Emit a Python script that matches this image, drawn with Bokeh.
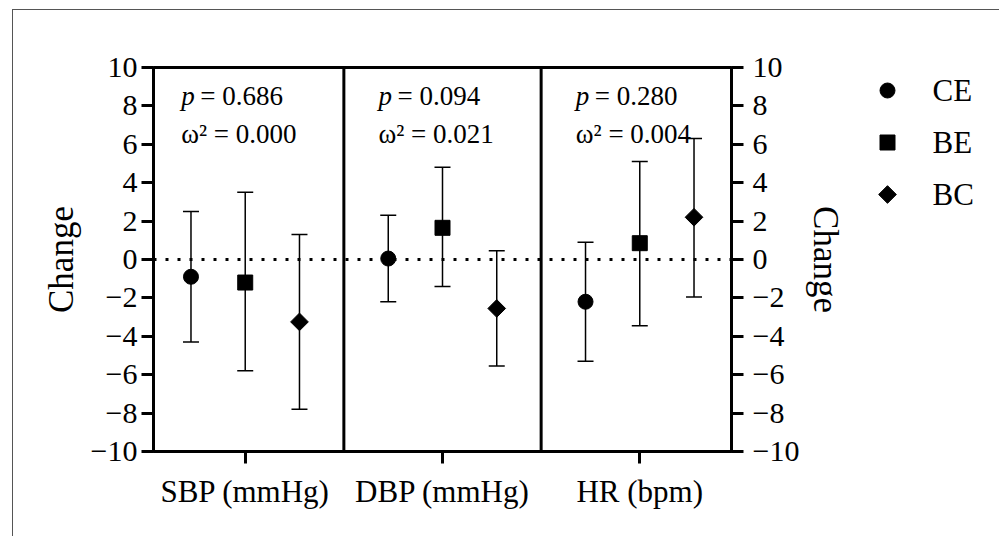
import math
from bokeh.plotting import figure
from bokeh.layouts import row
from bokeh.models import (Range1d, LinearAxis, FixedTicker, Whisker, TeeHead, Span,
                          Label, ColumnDataSource)
from bokeh.core.properties import value
from bokeh.embed import file_html
from bokeh.resources import INLINE

# ---- data ----
categories = ["SBP (mmHg)", "DBP (mmHg)", "HR (bpm)"]
groups = ["CE", "BE", "BC"]
mean_CE = [-0.9, 0.05, -2.2]
upper_CE = [2.5, 2.3, 0.9]
lower_CE = [-4.3, -2.2, -5.3]
mean_BE = [-1.2, 1.65, 0.85]
upper_BE = [3.5, 4.8, 5.1]
lower_BE = [-5.8, -1.4, -3.45]
mean_BC = [-3.25, -2.55, 2.2]
upper_BC = [1.3, 0.45, 6.3]
lower_BC = [-7.8, -5.55, -1.95]
p_values = ["0.686", "0.094", "0.280"]
omega2 = ["0.000", "0.021", "0.004"]
y_ticks = list(range(-10, 11, 2))

FONT = "Liberation Serif"

cat_x = [i + 0.5 for i in range(len(categories))]
offsets = [-0.275, 0.0, 0.275]
marker_styles = [dict(marker="circle", size=15, angle=0.0),
                 dict(marker="square", size=15, angle=0.0),
                 dict(marker="square", size=12.5, angle=math.pi / 4)]

p = figure(width=870, height=536, x_range=Range1d(0.035, 2.965), y_range=Range1d(-10, 10),
           output_backend="svg", toolbar_location=None,
           min_border_left=153, min_border_top=67, min_border_right=139, min_border_bottom=85)
p.grid.visible = False
p.outline_line_color = "black"
p.outline_line_width = 3
p.background_fill_color = "white"
p.border_fill_alpha = 0

# x axis
xa = p.xaxis[0]
xa.ticker = FixedTicker(ticks=cat_x)
xa.major_label_overrides = {x: c for x, c in zip(cat_x, categories)}
# y axes
ya = p.yaxis[0]
yr = LinearAxis()
p.add_layout(yr, "right")
for ax in (ya, yr):
    ax.ticker = FixedTicker(ticks=y_ticks)
    ax.major_label_overrides = {t: str(t).replace("-", "\u2212") for t in y_ticks}
    ax.axis_label = "Change"
    ax.axis_label_text_font = FONT
    ax.axis_label_text_font_style = "normal"
    ax.axis_label_text_font_size = "35px"
    ax.axis_label_text_color = "black"
for ax in (xa, ya, yr):
    ax.axis_line_width = 3
    ax.major_tick_line_width = 3
    ax.major_tick_out = 12
    ax.major_tick_in = 0
    ax.minor_tick_line_color = None
    ax.major_label_text_font = FONT
    ax.major_label_text_color = "black"
    ax.axis_line_color = "black"
    ax.major_tick_line_color = "black"
ya.axis_label_standoff = 7
yr.axis_label_standoff = 4
ya.major_label_text_font_size = "30px"
yr.major_label_text_font_size = "30px"
ya.major_label_standoff = 4
yr.major_label_standoff = 9
xa.major_label_text_font_size = "31px"
xa.major_label_standoff = 10

# reference lines
p.add_layout(Span(location=0, dimension="width", line_color="black", line_width=3, line_dash="3 9"))
for b in [1, 2]:
    p.add_layout(Span(location=b, dimension="height", line_color="black", line_width=3))

series = [(mean_CE, upper_CE, lower_CE), (mean_BE, upper_BE, lower_BE), (mean_BC, upper_BC, lower_BC)]
for gi, (g, (m, up, lo)) in enumerate(zip(groups, series)):
    xs = [c + offsets[gi] for c in cat_x]
    src = ColumnDataSource(dict(x=xs, mean=m, upper=up, lower=lo))
    p.add_layout(Whisker(base="x", upper="upper", lower="lower", source=src,
                         line_color="black", line_width=1.5,
                         upper_head=TeeHead(size=16, line_width=1.5, line_color="black"),
                         lower_head=TeeHead(size=16, line_width=1.5, line_color="black")))
    p.scatter("x", "mean", source=src, color="black", **marker_styles[gi])

# annotations
for i, c in enumerate(cat_x):
    common = dict(x=c, y=10, text_font=FONT, text_font_size="27px", text_baseline="alphabetic",
                  text_color="black")
    p.add_layout(Label(x_offset=-64, y_offset=-28, text="p", text_font_style="italic", **common))
    p.add_layout(Label(x_offset=-45, y_offset=-28, text="= " + p_values[i], **common))
    p.add_layout(Label(x_offset=-64, y_offset=-66, text="\u03c9\u00b2 = " + omega2[i], **common))

# ---- legend panel (separate small figure; its frame is aligned with the main frame) ----
ROW_PX = 52      # vertical distance between legend rows
FRAME_PX = 384   # frame height shared with main plot
TOP_PX = 23      # first row below frame top
lg = figure(width=129, height=536, x_range=Range1d(-17, 112),
            y_range=Range1d((FRAME_PX - TOP_PX) / ROW_PX, -TOP_PX / ROW_PX),
            output_backend="svg", toolbar_location=None, min_border=0)
lg.axis.visible = False
lg.grid.visible = False
lg.outline_line_color = None
lg.background_fill_alpha = 0
lg.border_fill_alpha = 0
for gi, g in enumerate(groups):
    lg.scatter([0], [gi], color="black", **marker_styles[gi])
lg.text(x=[0] * len(groups), y=list(range(len(groups))), text=groups, x_offset=45,
        text_font=value(FONT), text_font_size="31px", text_baseline="middle", text_color="black")

layout = row(p, lg, spacing=0)
layout.styles = {
    "background": "linear-gradient(#555,#555) 12px 9px / 1px 100% no-repeat, "
                  "linear-gradient(#555,#555) 12px 9px / 100% 1px no-repeat, white"
}

open("out.html", "w").write(file_html(layout, INLINE))
